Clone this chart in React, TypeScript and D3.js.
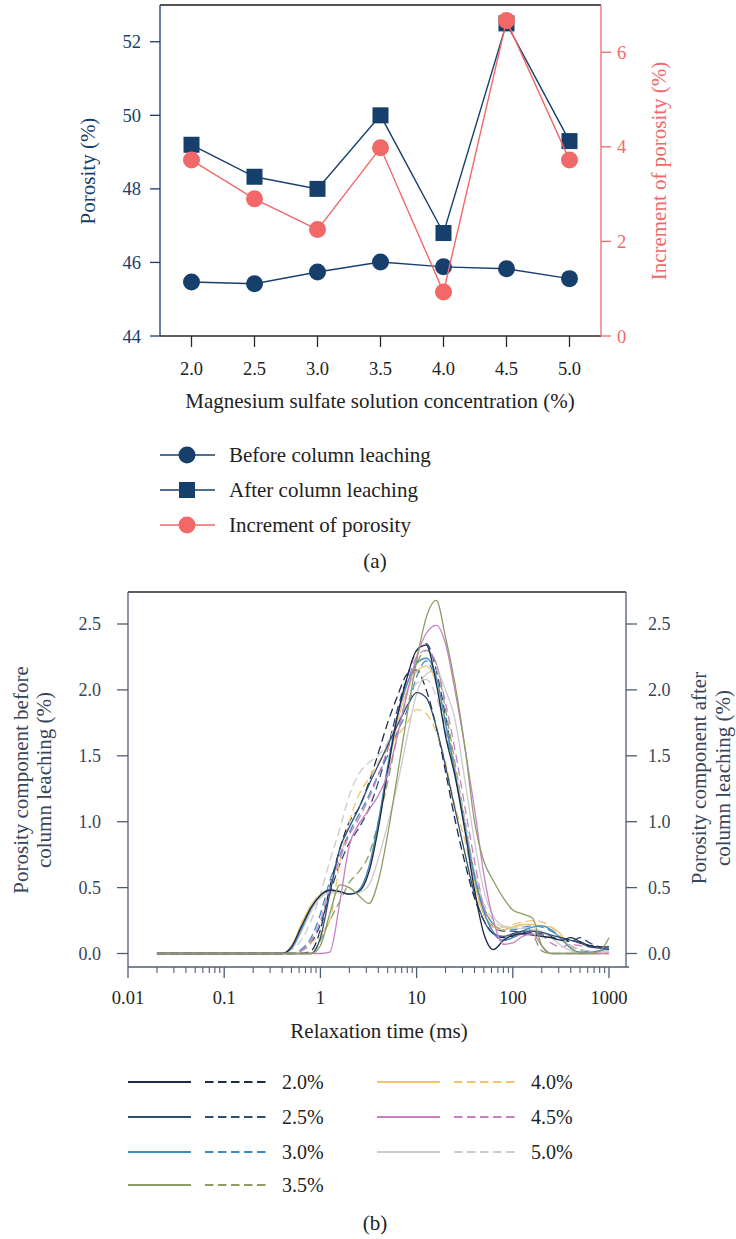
import React from 'react';
import * as d3 from 'd3';

// ---------- Panel (a) data ----------
const concentrations = [2.0, 2.5, 3.0, 3.5, 4.0, 4.5, 5.0];
const concentrationLabels = ['2.0', '2.5', '3.0', '3.5', '4.0', '4.5', '5.0'];
const porosityBefore = [45.47, 45.42, 45.74, 46.01, 45.88, 45.83, 45.56];
const porosityAfter = [49.2, 48.33, 48.0, 50.0, 46.8, 52.5, 49.3];
const porosityIncrement = [3.72, 2.9, 2.25, 3.98, 0.93, 6.67, 3.72];
const porosityTicks = [44, 46, 48, 50, 52];
const incrementTicks = [0, 2, 4, 6];
const legendA = ['Before column leaching', 'After column leaching', 'Increment of porosity'];

// ---------- Panel (b) data ----------
const relaxationTimes = [0.02, 0.1, 0.3, 0.4, 0.5, 0.63, 0.8, 1.0, 1.25, 1.6, 2.0, 2.5, 3.2, 4.0, 5.0, 6.3, 8.0, 10, 12.6, 16, 20, 25, 32, 40, 50, 63, 80, 100, 126, 160, 200, 250, 320, 400, 500, 630, 800, 1000];
const xTickValues = [0.01, 0.1, 1, 10, 100, 1000];
const xTickLabels = ['0.01', '0.1', '1', '10', '100', '1000'];
const yTickValuesB = [0, 0.5, 1.0, 1.5, 2.0, 2.5];
const yTickLabelsB = ['0.0', '0.5', '1.0', '1.5', '2.0', '2.5'];
const seriesLabels = ['2.0%', '2.5%', '3.0%', '3.5%', '4.0%', '4.5%', '5.0%'];
const seriesColors = ['#1e2b47', '#2f4e74', '#3c8cc4', '#8c9e64', '#f2c46e', '#c87fc4', '#cbcbcb'];

// before column leaching (solid)
const before20 = [0, 0, 0, 0, 0.05, 0.2, 0.35, 0.44, 0.48, 0.47, 0.45, 0.47, 0.62, 0.95, 1.38, 1.8, 2.1, 2.3, 2.34, 2.05, 1.65, 1.35, 0.92, 0.48, 0.15, 0.03, 0.1, 0.14, 0.15, 0.14, 0.13, 0.12, 0.1, 0.12, 0.09, 0.06, 0.05, 0.05];
const before25 = [0, 0, 0, 0, 0, 0, 0, 0.12, 0.45, 0.8, 0.96, 1.1, 1.28, 1.43, 1.58, 1.73, 1.88, 1.98, 1.94, 1.72, 1.42, 1.1, 0.75, 0.45, 0.25, 0.15, 0.13, 0.15, 0.17, 0.17, 0.16, 0.14, 0.12, 0.1, 0.08, 0.05, 0.04, 0.03];
const before30 = [0, 0, 0, 0, 0.04, 0.18, 0.34, 0.44, 0.48, 0.47, 0.45, 0.48, 0.66, 1.0, 1.42, 1.8, 2.05, 2.2, 2.24, 2.1, 1.75, 1.38, 0.95, 0.58, 0.32, 0.16, 0.1, 0.12, 0.17, 0.2, 0.21, 0.18, 0.11, 0.04, 0.01, 0.01, 0.02, 0.04];
const before35 = [0, 0, 0, 0, 0, 0, 0, 0.06, 0.3, 0.52, 0.5, 0.44, 0.38, 0.55, 0.9, 1.35, 1.82, 2.22, 2.55, 2.68, 2.4, 2.05, 1.55, 1.0, 0.7, 0.55, 0.42, 0.33, 0.3, 0.27, 0.06, 0, 0, 0, 0, 0, 0.02, 0.12];
const before40 = [0, 0, 0, 0, 0.06, 0.22, 0.37, 0.45, 0.48, 0.47, 0.45, 0.47, 0.63, 0.97, 1.38, 1.75, 2.0, 2.14, 2.18, 2.05, 1.75, 1.4, 0.95, 0.55, 0.3, 0.2, 0.18, 0.2, 0.22, 0.22, 0.21, 0.2, 0.14, 0.04, 0, 0, 0, 0.01];
const before45 = [0, 0, 0, 0, 0, 0, 0, 0, 0.01, 0.4, 0.82, 0.98, 1.09, 1.2, 1.36, 1.65, 1.98, 2.25, 2.43, 2.49, 2.35, 2.0, 1.55, 1.1, 0.6, 0.25, 0.07, 0.08, 0.13, 0.15, 0.06, 0, 0, 0, 0, 0, 0, 0];
const before50 = [0, 0, 0, 0, 0.03, 0.16, 0.32, 0.42, 0.46, 0.46, 0.45, 0.46, 0.52, 0.72, 0.98, 1.28, 1.65, 1.97, 2.12, 2.15, 2.0, 1.78, 1.3, 0.85, 0.48, 0.28, 0.21, 0.19, 0.19, 0.18, 0.16, 0.12, 0.06, 0.02, 0, 0, 0.01, 0.02];

// after column leaching (dashed)
const after20 = [0, 0, 0, 0, 0, 0, 0.02, 0.18, 0.5, 0.8, 1.0, 1.1, 1.3, 1.52, 1.75, 1.95, 2.12, 2.15, 2.0, 1.72, 1.38, 1.02, 0.68, 0.42, 0.25, 0.15, 0.12, 0.13, 0.15, 0.16, 0.15, 0.13, 0.1, 0.1, 0.08, 0.06, 0.05, 0.04];
const after25 = [0, 0, 0, 0, 0, 0.02, 0.08, 0.22, 0.45, 0.68, 0.84, 0.95, 1.1, 1.3, 1.55, 1.85, 2.1, 2.3, 2.35, 2.15, 1.8, 1.4, 0.95, 0.55, 0.3, 0.2, 0.17, 0.17, 0.16, 0.15, 0.14, 0.12, 0.1, 0.09, 0.12, 0.08, 0.05, 0.03];
const after30 = [0, 0, 0, 0, 0, 0.03, 0.12, 0.3, 0.55, 0.75, 0.92, 1.05, 1.2, 1.36, 1.5, 1.68, 1.85, 2.1, 2.22, 2.05, 1.68, 1.38, 0.95, 0.6, 0.35, 0.22, 0.18, 0.18, 0.2, 0.21, 0.2, 0.17, 0.12, 0.06, 0.03, 0.01, 0.02, 0.03];
const after35 = [0, 0, 0, 0, 0, 0, 0, 0.1, 0.25, 0.4, 0.54, 0.62, 0.75, 1.0, 1.3, 1.65, 1.98, 2.2, 2.3, 2.2, 1.85, 1.45, 1.0, 0.6, 0.35, 0.22, 0.18, 0.2, 0.22, 0.15, 0.02, 0, 0, 0, 0, 0, 0, 0];
const after40 = [0, 0, 0, 0, 0, 0.02, 0.08, 0.15, 0.25, 0.7, 1.0, 1.2, 1.33, 1.45, 1.55, 1.65, 1.75, 1.85, 1.82, 1.68, 1.45, 1.12, 0.85, 0.5, 0.3, 0.2, 0.2, 0.22, 0.24, 0.25, 0.24, 0.2, 0.12, 0.05, 0.02, 0, 0, 0];
const after45 = [0, 0, 0, 0, 0, 0.02, 0.1, 0.25, 0.5, 0.72, 0.9, 1.02, 1.18, 1.35, 1.55, 1.8, 2.05, 2.25, 2.3, 2.2, 1.9, 1.55, 1.1, 0.7, 0.35, 0.15, 0.1, 0.12, 0.15, 0.17, 0.14, 0.08, 0.05, 0.07, 0.06, 0.05, 0.05, 0.04];
const after50 = [0, 0, 0, 0, 0.03, 0.1, 0.25, 0.45, 0.7, 0.95, 1.2, 1.36, 1.45, 1.5, 1.6, 1.75, 1.9, 2.05, 2.08, 1.95, 1.7, 1.4, 1.0, 0.62, 0.38, 0.25, 0.2, 0.2, 0.2, 0.19, 0.17, 0.14, 0.1, 0.06, 0.03, 0.02, 0.02, 0.02];

const beforeSeries = [before20, before25, before30, before35, before40, before45, before50];
const afterSeries = [after20, after25, after30, after35, after40, after45, after50];

const FONT = "'Liberation Serif', 'Times New Roman', serif";
const NAVY = '#173f6b';
const RED = '#f26868';
const SLATE = '#4f5d70';
const SLATE_TEXT = '#37455a';
const DASH = '8.5,4.5';

export default function App() {
  // panel (a) scales
  const x = d3.scaleLinear().domain([1.75, 5.25]).range([160, 601]);
  const yL = d3.scaleLinear().domain([44, 53]).range([336, 5]);
  const yR = d3.scaleLinear().domain([0, 7]).range([336, 5]);
  const lineL = d3.line<number>().x((_, i) => x(concentrations[i])).y((d) => yL(d));
  const lineR = d3.line<number>().x((_, i) => x(concentrations[i])).y((d) => yR(d));

  // panel (b) scales
  const xB = d3.scaleLog().domain([0.01, 1000]).range([128, 609]);
  const yB = d3.scaleLinear().domain([0, 2.5]).range([953.5, 624]);
  const curve = d3
    .line<number>()
    .x((_, i) => xB(relaxationTimes[i]))
    .y((d) => yB(d))
    .curve(d3.curveMonotoneX);

  const minorTicks: number[] = [];
  [0.01, 0.1, 1, 10, 100].forEach((dec) => {
    for (let m = 2; m <= 9; m++) minorTicks.push(dec * m);
  });

  const legendRowsA = [455, 490, 525];
  const legendRowsB = [1082, 1117, 1152, 1185];

  return (
    <svg
      width={736}
      height={1239}
      style={{ position: 'absolute', left: 0, top: 0, background: '#fff' }}
      fontFamily={FONT}
    >
      <rect x={0} y={0} width={736} height={1239} fill="#fff" />

      {/* ================= Panel (a) ================= */}
      <line x1={160} x2={601} y1={5} y2={5} stroke="#1a1a1a" strokeWidth={1.5} />
      <line x1={160} x2={601} y1={336} y2={336} stroke="#2a2a2a" strokeWidth={1.3} />
      <line x1={160} x2={160} y1={5} y2={336} stroke={NAVY} strokeWidth={1.3} />
      <line x1={601} x2={601} y1={5} y2={336} stroke={RED} strokeWidth={1.3} />

      {porosityTicks.map((t) => (
        <g key={'pl' + t}>
          <line x1={150} x2={160} y1={yL(t)} y2={yL(t)} stroke={NAVY} strokeWidth={1.3} />
          <text x={141} y={yL(t) + 6.5} textAnchor="end" fontSize={18.5} fill={NAVY}>
            {t}
          </text>
        </g>
      ))}
      {incrementTicks.map((t) => (
        <g key={'pr' + t}>
          <line x1={601} x2={611} y1={yR(t)} y2={yR(t)} stroke={RED} strokeWidth={1.3} />
          <text x={617} y={yR(t) + 6.5} textAnchor="start" fontSize={18.5} fill={RED}>
            {t}
          </text>
        </g>
      ))}
      {concentrations.map((c, i) => (
        <g key={'cx' + c}>
          <line x1={x(c)} x2={x(c)} y1={336} y2={347} stroke="#2a2a2a" strokeWidth={1.3} />
          <text x={x(c)} y={375} textAnchor="middle" fontSize={18.5} fill="#222">
            {concentrationLabels[i]}
          </text>
        </g>
      ))}
      <text x={380} y={408} textAnchor="middle" fontSize={21} fill="#222">
        Magnesium sulfate solution concentration (%)
      </text>
      <text transform="translate(95,171) rotate(-90)" textAnchor="middle" fontSize={21} fill={NAVY}>
        Porosity (%)
      </text>
      <text transform="translate(666,171) rotate(-90)" textAnchor="middle" fontSize={21} fill={RED}>
        Increment of porosity (%)
      </text>

      <path d={lineL(porosityBefore) || ''} fill="none" stroke={NAVY} strokeWidth={1.4} />
      <path d={lineL(porosityAfter) || ''} fill="none" stroke={NAVY} strokeWidth={1.4} />
      {porosityBefore.map((v, i) => (
        <circle key={'b' + i} cx={x(concentrations[i])} cy={yL(v)} r={8.5} fill={NAVY} />
      ))}
      {porosityAfter.map((v, i) => (
        <rect key={'a' + i} x={x(concentrations[i]) - 8} y={yL(v) - 8} width={16} height={16} fill={NAVY} />
      ))}
      <path d={lineR(porosityIncrement) || ''} fill="none" stroke={RED} strokeWidth={1.4} />
      {porosityIncrement.map((v, i) => (
        <circle key={'r' + i} cx={x(concentrations[i])} cy={yR(v)} r={8.5} fill={RED} />
      ))}

      {/* legend (a) */}
      {legendA.map((lab, i) => {
        const yy = legendRowsA[i];
        const col = i === 2 ? RED : NAVY;
        return (
          <g key={'la' + i}>
            <line x1={160} x2={215} y1={yy} y2={yy} stroke={col} strokeWidth={1.4} />
            {i === 1 ? (
              <rect x={187 - 8} y={yy - 8} width={16} height={16} fill={col} />
            ) : (
              <circle cx={187} cy={yy} r={8.5} fill={col} />
            )}
            <text x={229} y={yy + 6.5} fontSize={21} fill="#222">
              {lab}
            </text>
          </g>
        );
      })}
      <text x={375} y={568} textAnchor="middle" fontSize={21} fill="#222">
        (a)
      </text>

      {/* ================= Panel (b) ================= */}
      <line x1={128} x2={626} y1={592} y2={592} stroke="#2a2a2a" strokeWidth={1.3} />
      <line x1={128} x2={128} y1={592} y2={967} stroke={SLATE} strokeWidth={1.3} />
      <line x1={626} x2={626} y1={592} y2={967} stroke={SLATE} strokeWidth={1.3} />
      <line x1={128} x2={629} y1={967} y2={967} stroke={SLATE} strokeWidth={1.3} />

      {yTickValuesB.map((t, i) => (
        <g key={'yb' + t}>
          <line x1={117} x2={128} y1={yB(t)} y2={yB(t)} stroke={SLATE} strokeWidth={1.3} />
          <line x1={626} x2={637} y1={yB(t)} y2={yB(t)} stroke={SLATE} strokeWidth={1.3} />
          <text x={101} y={yB(t) + 6} textAnchor="end" fontSize={18} fill={SLATE_TEXT}>
            {yTickLabelsB[i]}
          </text>
          <text x={648} y={yB(t) + 6} textAnchor="start" fontSize={18} fill={SLATE_TEXT}>
            {yTickLabelsB[i]}
          </text>
        </g>
      ))}
      {xTickValues.map((t, i) => (
        <g key={'xb' + t}>
          <line x1={xB(t)} x2={xB(t)} y1={967} y2={978} stroke={SLATE} strokeWidth={1.3} />
          <text x={xB(t)} y={1004} textAnchor="middle" fontSize={18.5} fill="#222">
            {xTickLabels[i]}
          </text>
        </g>
      ))}
      {minorTicks.map((t) => (
        <line key={'mt' + t} x1={xB(t)} x2={xB(t)} y1={967} y2={973} stroke={SLATE} strokeWidth={1.1} />
      ))}
      <text x={379} y={1038} textAnchor="middle" fontSize={21} fill="#222">
        Relaxation time (ms)
      </text>
      <text transform="translate(28,780) rotate(-90)" textAnchor="middle" fontSize={21} fill={SLATE_TEXT}>
        Porosity component before
      </text>
      <text transform="translate(51,780) rotate(-90)" textAnchor="middle" fontSize={21} fill={SLATE_TEXT}>
        column leaching (%)
      </text>
      <text transform="translate(706,778) rotate(-90)" textAnchor="middle" fontSize={21} fill={SLATE_TEXT}>
        Porosity component after
      </text>
      <text transform="translate(730,778) rotate(-90)" textAnchor="middle" fontSize={21} fill={SLATE_TEXT}>
        column leaching (%)
      </text>

      <g fill="none">
        {afterSeries.map((s, i) => (
          <path key={'as' + i} d={curve(s) || ''} stroke={seriesColors[i]} strokeWidth={1.3} strokeDasharray={DASH} />
        ))}
        {[6, 4, 2, 1, 0, 5, 3].map((i) => (
          <path key={'bs' + i} d={curve(beforeSeries[i]) || ''} stroke={seriesColors[i]} strokeWidth={1.3} />
        ))}
      </g>

      {/* legend (b) */}
      {seriesLabels.map((lab, i) => {
        const colIdx = i < 4 ? 0 : 1;
        const row = i < 4 ? i : i - 4;
        const yy = legendRowsB[row];
        const x0 = colIdx === 0 ? 128 : 377;
        return (
          <g key={'lb' + i}>
            <line x1={x0} x2={x0 + 63} y1={yy} y2={yy} stroke={seriesColors[i]} strokeWidth={2} />
            <line x1={x0 + 77} x2={x0 + 138} y1={yy} y2={yy} stroke={seriesColors[i]} strokeWidth={2} strokeDasharray={DASH} />
            <text x={x0 + 154} y={yy + 7} fontSize={20} fill="#222">
              {lab}
            </text>
          </g>
        );
      })}
      <text x={375} y={1230} textAnchor="middle" fontSize={21} fill="#222">
        (b)
      </text>
    </svg>
  );
}
